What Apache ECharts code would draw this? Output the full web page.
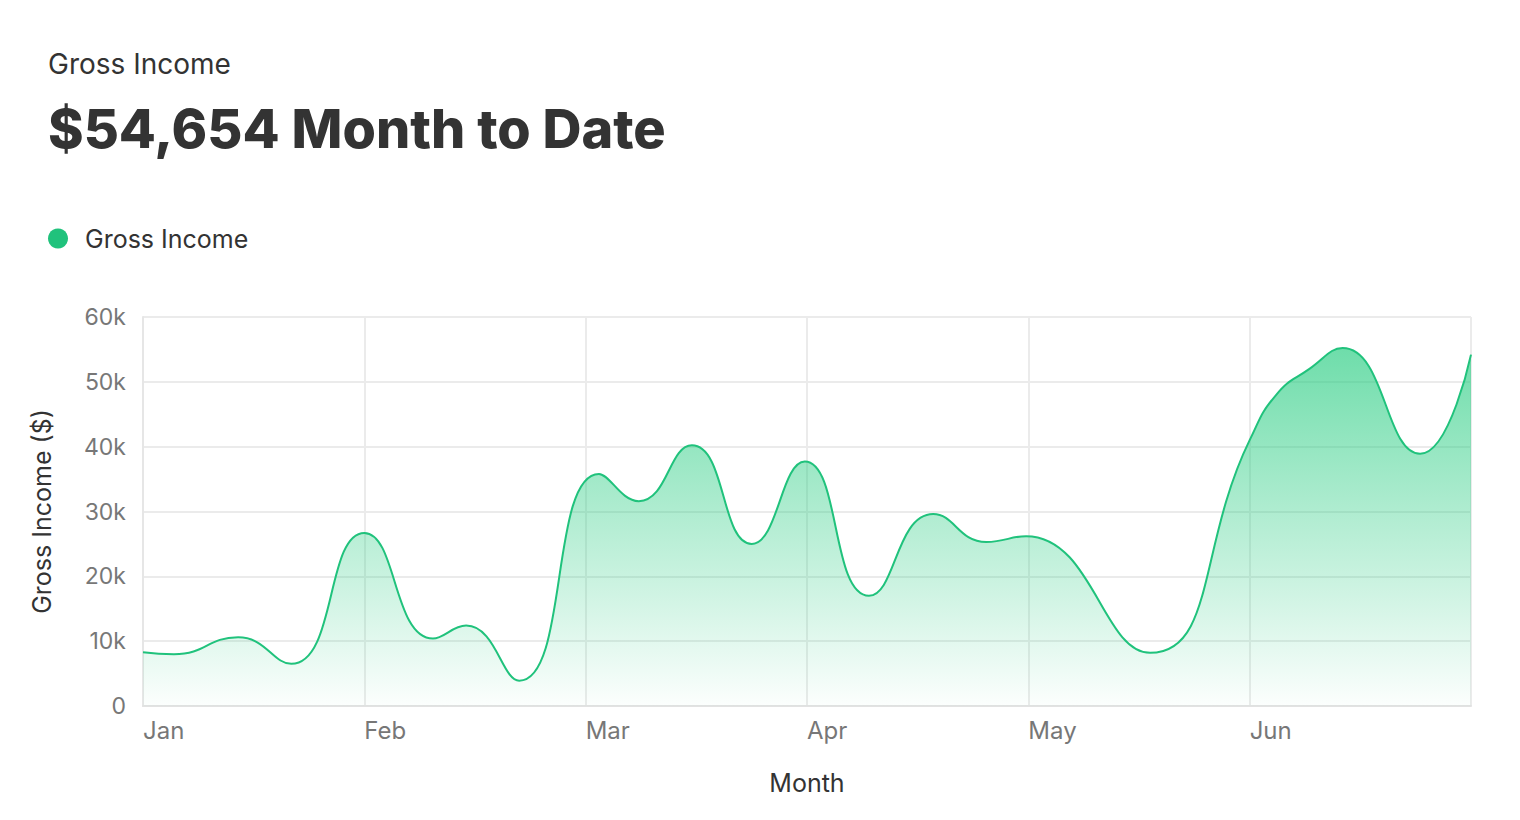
<!DOCTYPE html>
<html>
<head>
<meta charset="utf-8">
<script src="https://cdn.jsdelivr.net/npm/echarts@6/dist/echarts.min.js"></script>
<style>
  html, body { margin: 0; padding: 0; background: #fff; }
  #chart { width: 1520px; height: 820px; }
</style>
</head>
<body>
<div id="chart"></div>
<script>
(function() {
  // x positions are in months from Jan 1 (0 = Jan, 6 = end of Jun)
  var months = ['Jan', 'Feb', 'Mar', 'Apr', 'May', 'Jun'];
  var xPos = [0, 0.14, 0.43, 0.67, 1.0, 1.31, 1.46, 1.70, 2.06, 2.24, 2.48, 2.75, 2.99,
              3.28, 3.57, 3.81, 3.99, 4.55, 5.0, 5.12, 5.27, 5.42, 5.77, 6.0];
  var income = [8300, 8000, 10600, 6500, 26700, 10400, 12400, 3900, 35800, 31600, 40200, 25000, 37700,
                17000, 29600, 25300, 26200, 8200, 41000, 48000, 52000, 55200, 38900, 54200];
  var yTicks = [0, 10000, 20000, 30000, 40000, 50000, 60000];

  var green = '#20c27c';
  var ink = '#333333';
  var muted = '#777777';
  var rule = '#ebebeb';

  var seriesData = xPos.map(function(x, i) { return [x, income[i]]; });

  var chart = echarts.init(document.getElementById('chart'), null, { renderer: 'svg' });
  chart.setOption({
    animation: false,
    textStyle: { fontFamily: 'Inter, sans-serif' },
    title: [
      {
        text: 'Gross Income',
        left: 43, top: 45,
        textStyle: { fontFamily: 'Inter, sans-serif', fontSize: 28, fontWeight: 400, color: ink }
      },
      {
        text: '$54,654 Month to Date',
        left: 43, top: 96,
        textStyle: { fontFamily: 'Inter, sans-serif', fontSize: 54, fontWeight: 800, color: ink }
      }
    ],
    legend: {
      left: 43, top: 221,
      icon: 'circle',
      itemWidth: 20, itemHeight: 20, itemGap: 14,
      textStyle: { fontSize: 25, color: ink, fontFamily: 'Inter, sans-serif', padding: [0, 0, 0, 12] },
      data: ['Gross Income']
    },
    grid: { left: 143, right: 49, top: 317, bottom: 114 },
    xAxis: {
      type: 'value',
      min: 0, max: 6, interval: 1,
      name: 'Month',
      nameLocation: 'middle',
      nameGap: 64,
      nameTextStyle: { fontSize: 25, color: ink },
      axisLine: { lineStyle: { color: '#e2e2e2', width: 2 } },
      axisTick: { show: false },
      axisLabel: {
        color: muted, fontSize: 24, align: 'left', margin: 12,
        formatter: function(v) { return months[v] || ''; }
      },
      splitLine: { show: true, lineStyle: { color: rule, width: 2 } }
    },
    yAxis: {
      type: 'value',
      min: yTicks[0], max: yTicks[yTicks.length - 1], interval: 10000,
      name: 'Gross Income ($)',
      nameLocation: 'middle',
      nameGap: 89,
      nameRotate: 90,
      nameTextStyle: { fontSize: 25, color: ink },
      axisLine: { show: true, lineStyle: { color: '#e6e6e6', width: 2 } },
      axisTick: { show: false },
      axisLabel: {
        color: muted, fontSize: 23, margin: 17,
        formatter: function(v) { return v === 0 ? '0' : (v / 1000) + 'k'; }
      },
      splitLine: { lineStyle: { color: rule, width: 2 } }
    },
    series: [{
      name: 'Gross Income',
      type: 'line',
      data: seriesData,
      smooth: 0.5,
      showSymbol: false,
      itemStyle: { color: green },
      lineStyle: { color: green, width: 2 },
      areaStyle: {
        color: {
          type: 'linear', x: 0, y: 0, x2: 0, y2: 1,
          colorStops: [
            { offset: 0, color: 'rgba(38, 204, 128, 0.95)' },
            { offset: 1, color: 'rgba(38, 204, 128, 0.02)' }
          ]
        }
      }
    }]
  });
})();
</script>
</body>
</html>
